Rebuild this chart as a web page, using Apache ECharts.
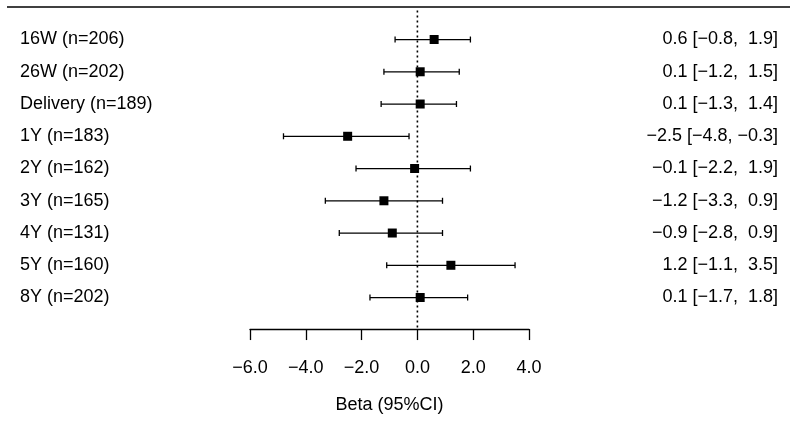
<!DOCTYPE html>
<html><head><meta charset="utf-8">
<script src="https://cdn.jsdelivr.net/npm/echarts@6/dist/echarts.min.js"></script>
<style>html,body{margin:0;padding:0;background:#fff}#c{width:800px;height:421px}</style>
</head><body><div id="c"></div>
<script>
const categories = ['16W (n=206)','26W (n=202)','Delivery (n=189)','1Y (n=183)','2Y (n=162)','3Y (n=165)','4Y (n=131)','5Y (n=160)','8Y (n=202)'];
const beta  = [0.6, 0.1, 0.1, -2.5, -0.1, -1.2, -0.9, 1.2, 0.1];
const lower = [-0.8, -1.2, -1.3, -4.8, -2.2, -3.3, -2.8, -1.1, -1.7];
const upper = [1.9, 1.5, 1.4, -0.3, 1.9, 0.9, 0.9, 3.5, 1.8];
const xMin = -6, xMax = 4, xStep = 2;
const axisTitle = 'Beta (95%CI)';

const fmt = v => (v < 0 ? '\u2212' : '') + Math.abs(v).toFixed(1);
const pad = v => (v < 0 ? '' : ' ') + fmt(v);
const rightLabels = beta.map((b, i) => fmt(b) + ' [' + pad(lower[i]) + ', ' + pad(upper[i]) + ']');

const FONT = 'Liberation Sans, Arial, Helvetica, sans-serif';
const chart = echarts.init(document.getElementById('c'));
const ciData = categories.map((c, i) => [lower[i], upper[i], i]);
const ptData = categories.map((c, i) => [beta[i], i]);

chart.setOption({
  animation: false,
  textStyle: { fontFamily: FONT, color: '#000' },
  grid: { left: 250, right: 271, top: 23.4, height: 290.25 },
  graphic: [{ type: 'line', shape: { x1: 7, y1: 7, x2: 790, y2: 7 }, style: { stroke: '#000', lineWidth: 1.5 } }],
  xAxis: {
    type: 'value', min: xMin, max: xMax, interval: xStep, offset: 15.4,
    axisLine: { show: true, lineStyle: { color: '#000', width: 1.3 } },
    axisTick: { show: true, length: 11, lineStyle: { color: '#000', width: 1.3 } },
    splitLine: { show: false },
    axisLabel: { formatter: v => fmt(v), fontSize: 18, color: '#000', margin: 30, fontFamily: FONT },
    name: axisTitle, nameLocation: 'middle', nameGap: 67,
    nameTextStyle: { fontSize: 18, color: '#000', fontFamily: FONT }
  },
  yAxis: [{
    type: 'category', data: categories, inverse: true, position: 'left',
    axisLine: { show: false }, axisTick: { show: false }, splitLine: { show: false },
    axisLabel: { align: 'left', margin: 230, fontSize: 18, color: '#000', fontFamily: FONT }
  }, {
    type: 'category', data: rightLabels, inverse: true, position: 'right',
    axisLine: { show: false }, axisTick: { show: false }, splitLine: { show: false },
    axisLabel: { align: 'right', margin: 249, fontSize: 18, color: '#000', fontFamily: FONT }
  }],
  series: [{
    type: 'custom',
    data: [[0]],
    renderItem: (params, api) => {
      const cs = params.coordSys;
      const x = api.coord([api.value(0), 0])[0];
      return { type: 'line', shape: { x1: x, y1: cs.y - 13, x2: x, y2: cs.y + cs.height + 15.4 },
        style: { stroke: '#000', lineWidth: 1.6, lineDash: [2, 3] } };
    },
    z: 1, silent: true
  }, {
    type: 'custom',
    data: ciData,
    encode: { x: [0, 1], y: 2 },
    renderItem: (params, api) => {
      const i = api.value(2);
      const p1 = api.coord([api.value(0), i]);
      const p2 = api.coord([api.value(1), i]);
      const s = { stroke: '#000', lineWidth: 1.3 };
      const h = 3;
      return { type: 'group', children: [
        { type: 'line', shape: { x1: p1[0], y1: p1[1], x2: p2[0], y2: p2[1] }, style: s },
        { type: 'line', shape: { x1: p1[0], y1: p1[1] - h, x2: p1[0], y2: p1[1] + h }, style: s },
        { type: 'line', shape: { x1: p2[0], y1: p2[1] - h, x2: p2[0], y2: p2[1] + h }, style: s }
      ]};
    },
    z: 2, silent: true
  }, {
    type: 'scatter', data: ptData, symbol: 'rect', symbolSize: 9,
    itemStyle: { color: '#000', opacity: 1 }, z: 3, silent: true
  }]
});
</script></body></html>
